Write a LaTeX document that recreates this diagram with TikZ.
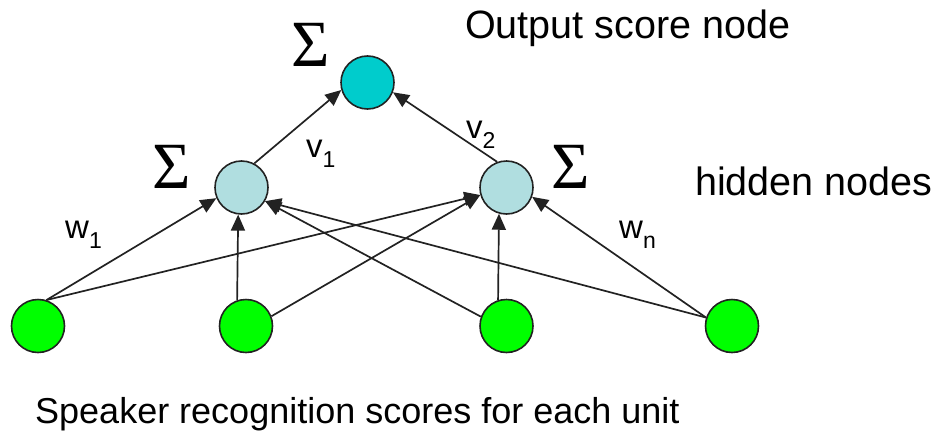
\documentclass[tikz,border=0pt]{standalone}
\usepackage{fontspec}
\setmainfont{Liberation Sans}
\newfontfamily\sigmafont{Liberation Serif}
\usetikzlibrary{arrows.meta}

\definecolor{outfill}{HTML}{00CCCC}
\definecolor{hidfill}{HTML}{B0DEE0}
\definecolor{infill}{HTML}{00FF00}
\definecolor{rim}{HTML}{222222}

\tikzset{
  unit/.style={circle, draw=rim, line width=1.6pt, minimum size=53pt, inner sep=0pt},
  outunit/.style={unit, fill=outfill},
  hidunit/.style={unit, fill=hidfill},
  inunit/.style={unit, fill=infill},
  link/.style={draw=rim, line width=1.7pt, -{Triangle[length=16pt,width=14pt]}},
  sumsign/.style={inner sep=0pt, font=\sigmafont\fontsize{66}{70}\selectfont},
  caption/.style={inner sep=0pt, anchor=base west, font=\fontsize{39.5}{46}\selectfont},
  weight/.style={inner sep=0pt, anchor=base west, font=\fontsize{33}{36}\selectfont}
}

\newcommand{\wsub}[2]{#1\raisebox{-10pt}{\fontsize{23}{24}\selectfont #2}}

\begin{document}
\begin{tikzpicture}[x=1pt, y=-1pt]
  \useasboundingbox (0,0) rectangle (941,431);

  % units
  \node[outunit] (out) at (367.5,82.5) {};
  \node[hidunit] (h1) at (241.5,187.5) {};
  \node[hidunit] (h2) at (506.5,187.5) {};
  \node[inunit] (b1) at (38,326) {};
  \node[inunit] (b2) at (246,326) {};
  \node[inunit] (b3) at (506.5,326) {};
  \node[inunit] (b4) at (732,326) {};

  % summation signs
  \node[sumsign] (s0) at (311,45) {Σ};
  \node[sumsign] (s1) at (172,167) {Σ};
  \node[sumsign] (s2) at (571,167) {Σ};

  % input -> hidden connections
  \draw[link] (b1.72) -- (h1.203);
  \draw[link] (b1.72) -- (h2.196);
  \draw[link] (b2.109) -- (h1.263);
  \draw[link] (b2.21) -- (h2.196);
  \draw[link] (b3.108) -- (h2.254);
  \draw[link] (b3.160) -- (h1.330);
  \draw[link] (b4.162) -- (h1.330);
  \draw[link] (b4.162) -- (h2.340);

  % hidden -> output connections
  \draw[link] (h1.62) -- (out.196);
  \draw[link] (h2.110) -- (out.339);

  % weights
  \node[weight] (lv1) at (306,157) {\wsub{v}{1}};
  \node[weight] (lv2) at (466,138) {\wsub{v}{2}};
  \node[weight] (lw1) at (65,238) {\wsub{w}{1}};
  \node[weight] (lwn) at (619,238) {\wsub{w}{n}};

  % captions
  \node[caption] (top) at (465,38) {Output score node};
  \node[caption] (mid) at (695,195) {hidden nodes};
  \node[caption, font=\fontsize{36}{44}\selectfont] (bot) at (35,423) {Speaker recognition scores for each unit};
\end{tikzpicture}
\end{document}
